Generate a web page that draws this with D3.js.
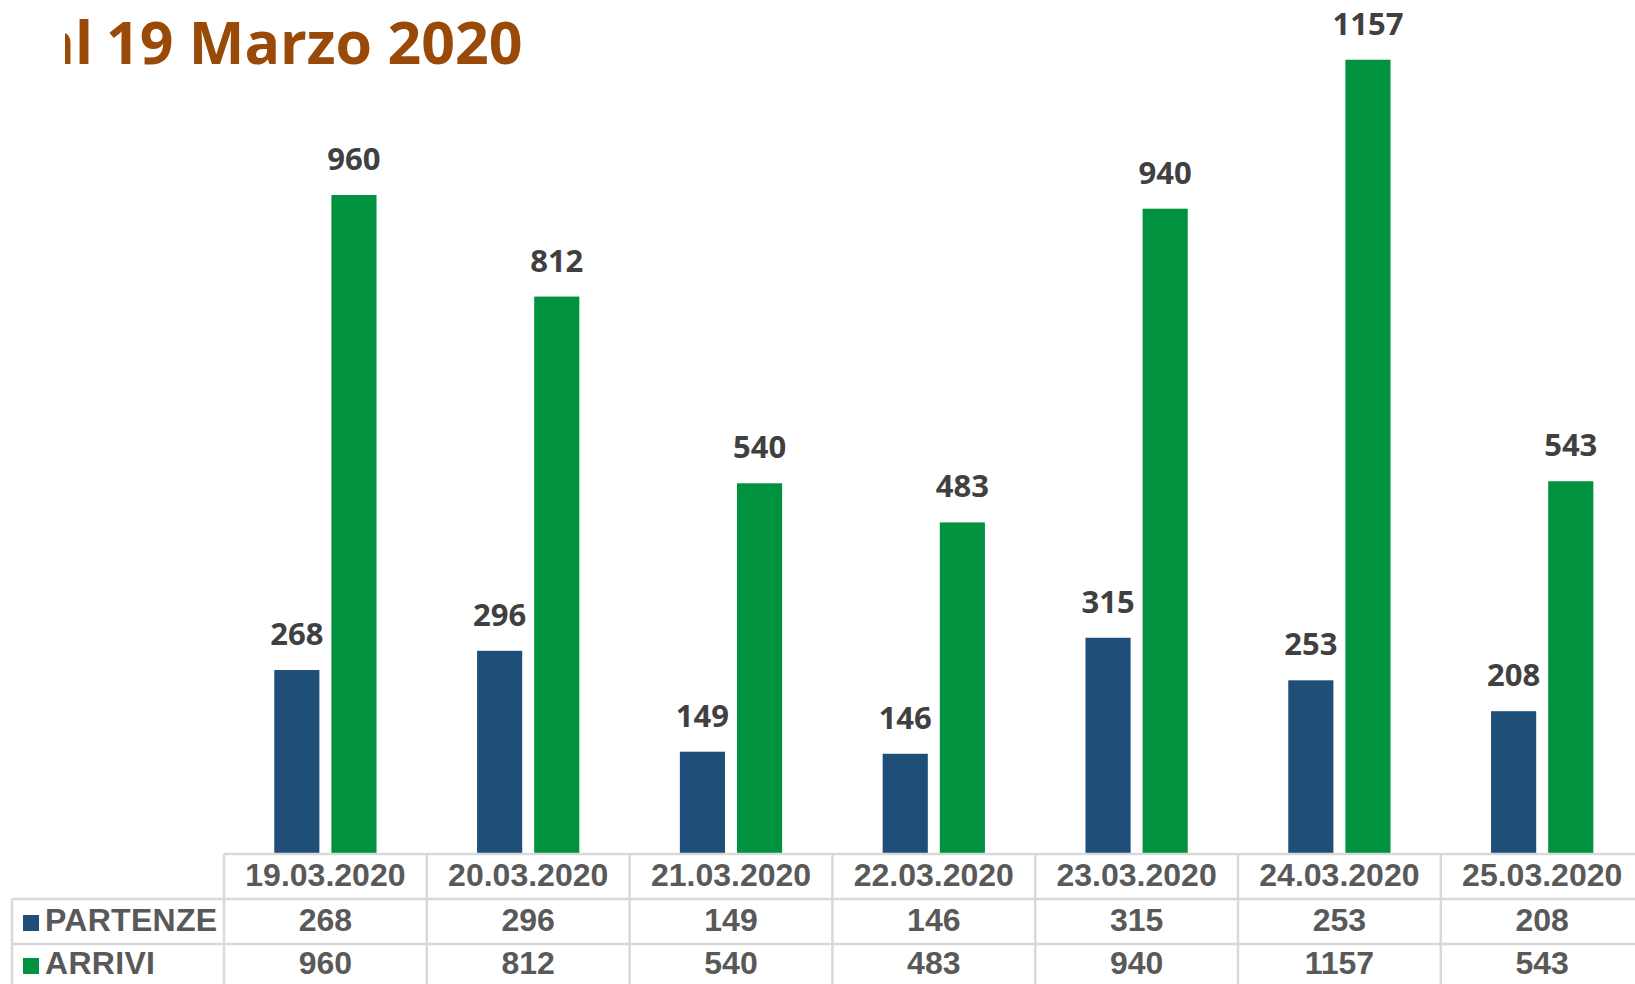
<!DOCTYPE html>
<html>
<head>
<meta charset="utf-8">
<script src="https://cdn.jsdelivr.net/npm/d3@7"></script>
<style>
  body { margin: 0; background: #fff; }
  svg { display: block; }
</style>
</head>
<body>
<div id="chart"></div>
<script>
// data
var dates = ["19.03.2020", "20.03.2020", "21.03.2020", "22.03.2020", "23.03.2020", "24.03.2020", "25.03.2020"];
var seriesNames = ["PARTENZE", "ARRIVI"];
var partenze = [268, 296, 149, 146, 315, 253, 208];
var arrivi = [960, 812, 540, 483, 940, 1157, 543];
var seriesColors = ["#1f4e79", "#00923f"];
var titleHead = "dal";
var titleTail = " 19 Marzo 2020";

var W = 1635, H = 984;
var tableLeft = 224, colW = 202.8, baseY = 854, rowH = 45, labelLeft = 12;

var svg = d3.select("#chart").append("svg")
  .attr("width", W)
  .attr("height", H);

// title, clipped on the left like the original
svg.append("clipPath").attr("id", "titleClip")
  .append("rect").attr("x", 65).attr("y", 0).attr("width", W).attr("height", 100);

var titleSize = 59;
var title = svg.append("text")
  .attr("clip-path", "url(#titleClip)")
  .attr("y", 64)
  .attr("font-family", "'Open Sans', 'Noto Sans', sans-serif")
  .attr("font-weight", 700)
  .attr("font-size", titleSize)
  .attr("fill", "#9a4a08");
title.append("tspan")
  .attr("x", 93)
  .attr("text-anchor", "end")
  .text(titleHead);
title.append("tspan")
  .attr("x", 106 - 0.26 * titleSize)
  .attr("text-anchor", "start")
  .text(titleTail);

// scales
var x0 = d3.scaleBand()
  .domain(dates)
  .range([tableLeft, tableLeft + colW * dates.length]);

var x1 = d3.scaleBand()
  .domain(seriesNames)
  .range([0, x0.bandwidth()])
  .paddingInner(0.21)
  .paddingOuter(0.88);

var y = d3.scaleLinear()
  .domain([0, 1244])
  .range([baseY, 0]);

var rows = dates.map(function(d, i) {
  return { date: d, values: [
    { key: seriesNames[0], value: partenze[i] },
    { key: seriesNames[1], value: arrivi[i] }
  ]};
});
var color = d3.scaleOrdinal().domain(seriesNames).range(seriesColors);

var groups = svg.append("g").selectAll("g")
  .data(rows)
  .enter().append("g")
  .attr("transform", function(d) { return "translate(" + x0(d.date) + ",0)"; });

groups.selectAll("rect")
  .data(function(d) { return d.values; })
  .enter().append("rect")
  .attr("x", function(d) { return x1(d.key); })
  .attr("y", function(d) { return y(d.value); })
  .attr("width", x1.bandwidth())
  .attr("height", function(d) { return baseY - y(d.value); })
  .attr("fill", function(d) { return color(d.key); });

// value labels
groups.selectAll("text")
  .data(function(d) { return d.values; })
  .enter().append("text")
  .attr("x", function(d) { return x1(d.key) + x1.bandwidth() / 2; })
  .attr("y", function(d) { return y(d.value) - 25; })
  .attr("text-anchor", "middle")
  .attr("font-family", "'Open Sans', 'Noto Sans', sans-serif")
  .attr("font-weight", 700)
  .attr("font-size", 31)
  .attr("fill", "#404040")
  .text(function(d) { return d.value; });

// data table
var grid = svg.append("g")
  .attr("stroke", "#d9d9d9")
  .attr("stroke-width", 2.5);

var tableRight = x0.range()[1];
grid.append("line").attr("x1", tableLeft).attr("x2", tableRight).attr("y1", baseY).attr("y2", baseY);
[1, 2].forEach(function(r) {
  grid.append("line").attr("x1", labelLeft).attr("x2", tableRight)
    .attr("y1", baseY + r * rowH).attr("y2", baseY + r * rowH);
});
d3.range(dates.length + 1).forEach(function(i) {
  var xx = tableLeft + i * colW;
  grid.append("line").attr("x1", xx).attr("x2", xx).attr("y1", baseY).attr("y2", H);
});
grid.append("line").attr("x1", labelLeft).attr("x2", labelLeft).attr("y1", baseY + rowH).attr("y2", H);

var tableFont = "'Liberation Sans', Arial, sans-serif";
var tbl = svg.append("g")
  .attr("font-family", tableFont)
  .attr("font-weight", 700)
  .attr("font-size", 32)
  .attr("fill", "#595959")
  .attr("text-anchor", "middle");

tbl.selectAll(".hdr")
  .data(dates)
  .enter().append("text")
  .attr("class", "hdr")
  .attr("x", function(d) { return x0(d) + x0.bandwidth() / 2; })
  .attr("y", baseY + 32)
  .text(function(d) { return d; });

var tableRows = [partenze, arrivi];
var rowBase = [baseY + rowH + 32, baseY + 2 * rowH + 30];

tableRows.forEach(function(vals, r) {
  tbl.selectAll(".r" + r)
    .data(vals)
    .enter().append("text")
    .attr("class", "r" + r)
    .attr("x", function(d, i) { return x0(dates[i]) + x0.bandwidth() / 2; })
    .attr("y", rowBase[r])
    .text(function(d) { return d; });

  svg.append("rect")
    .attr("x", 23)
    .attr("y", rowBase[r] - 16)
    .attr("width", 16)
    .attr("height", 16)
    .attr("fill", seriesColors[r]);

  svg.append("text")
    .attr("x", 45)
    .attr("y", rowBase[r])
    .attr("font-family", tableFont)
    .attr("font-weight", 700)
    .attr("font-size", 32)
    .attr("letter-spacing", 0.3)
    .attr("fill", "#595959")
    .text(seriesNames[r]);
});
</script>
</body>
</html>
